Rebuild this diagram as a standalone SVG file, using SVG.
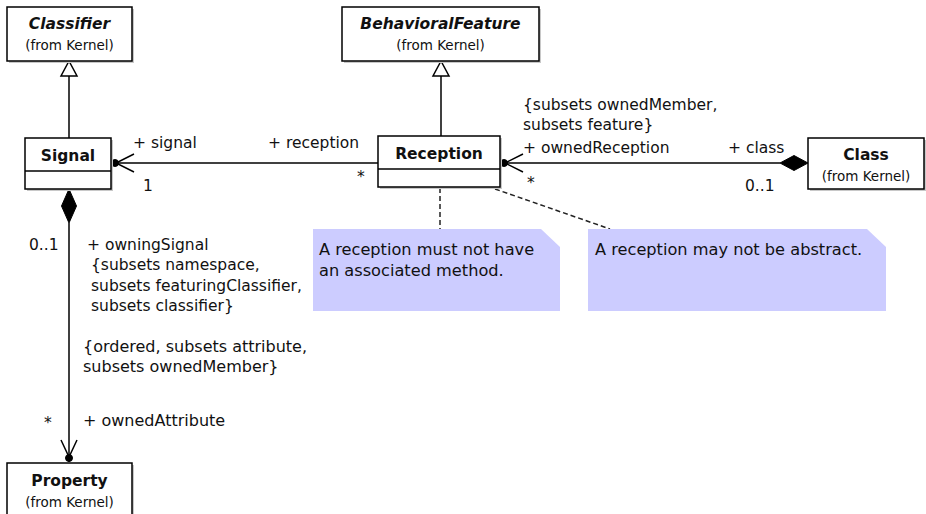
<svg xmlns="http://www.w3.org/2000/svg" width="926" height="514" viewBox="0 0 926 514">
<style>
text{font-family:"DejaVu Sans","Liberation Sans",sans-serif;fill:#111;}
.t{font-size:15.5px;font-weight:bold;text-anchor:middle;}
.ti{font-size:15.5px;font-weight:bold;font-style:italic;text-anchor:middle;}
.k{font-size:13.5px;text-anchor:middle;}
.l{font-size:15.5px;}
.b{font-size:16px;}
.n{font-size:16.2px;}
.box{fill:#fff;stroke:#000;stroke-width:1.5;}
.sh{fill:#c8c8c8;}
.ln{fill:none;stroke:#000;stroke-width:1.5;}
.ds{fill:none;stroke:#222;stroke-width:1.5;stroke-dasharray:5,3;}
.note{fill:#ccccff;}
.gen{fill:#fff;stroke:#000;stroke-width:1.5;}
.fill{fill:#000;stroke:#000;stroke-width:1;}
</style>
<g id="connectors">
  <!-- Signal -> Classifier generalization -->
  <line class="ln" x1="69" y1="76" x2="69" y2="138"/>
  <polygon class="gen" points="69,61 61,76 77,76"/>
  <!-- Reception -> BehavioralFeature generalization -->
  <line class="ln" x1="441" y1="76" x2="441" y2="136"/>
  <polygon class="gen" points="441,61 433,76 449,76"/>
  <!-- Signal - Reception association -->
  <line class="ln" x1="113" y1="163" x2="378" y2="163"/>
  <circle class="fill" cx="115" cy="163" r="3.5"/>
  <polyline class="ln" points="134,154 116,163 134,172"/>
  <!-- Reception - Class composition -->
  <line class="ln" x1="502" y1="163" x2="780" y2="163"/>
  <circle class="fill" cx="504" cy="163" r="3.5"/>
  <polyline class="ln" points="523,154 505,163 523,172"/>
  <polygon class="fill" points="808,163 794,155.5 780,163 794,170.5"/>
  <!-- Signal - Property composition -->
  <polygon class="fill" points="69,189 61.5,206 69,223 76.5,206"/>
  <line class="ln" x1="69" y1="223" x2="69" y2="462"/>
  <circle class="fill" cx="69" cy="458" r="3.5"/>
  <polyline class="ln" points="61,440 69,457 77,440"/>
  <!-- note anchors -->
  <line class="ds" x1="440" y1="188" x2="440" y2="229"/>
  <line class="ds" x1="495" y1="189" x2="610" y2="229"/>
  <!-- association labels -->
  <text class="l" x="133" y="148">+ signal</text>
  <text class="l" x="143" y="191">1</text>
  <text class="l" x="268" y="148">+ reception</text>
  <text class="l" x="357" y="182">*</text>
  <text class="l" x="523" y="110">{subsets ownedMember,</text>
  <text class="l" x="523" y="130">subsets feature}</text>
  <text class="l" x="523" y="153">+ ownedReception</text>
  <text class="l" x="527" y="188">*</text>
  <text class="l" x="728" y="153">+ class</text>
  <text class="l" x="745" y="191">0..1</text>
  <text class="l" x="29" y="250">0..1</text>
  <text class="l" x="87" y="250">+ owningSignal</text>
  <text class="l" x="91" y="270">{subsets namespace,</text>
  <text class="l" x="91" y="291">subsets featuringClassifier,</text>
  <text class="l" x="91" y="311">subsets classifier}</text>
  <text class="b" x="83" y="352">{ordered, subsets attribute,</text>
  <text class="b" x="83" y="372">subsets ownedMember}</text>
  <text class="l" x="44" y="428">*</text>
  <text class="b" x="83" y="426">+ ownedAttribute</text>
</g>
<g id="Classifier">
  <rect class="sh" x="9" y="9" width="125" height="54"/>
  <rect class="box" x="7" y="7" width="125" height="54"/>
  <text class="ti" x="69.5" y="29">Classifier</text>
  <text class="k" x="69.5" y="50">(from Kernel)</text>
</g>
<g id="BehavioralFeature">
  <rect class="sh" x="344" y="9" width="197" height="54"/>
  <rect class="box" x="342" y="7" width="197" height="54"/>
  <text class="ti" x="440.5" y="29">BehavioralFeature</text>
  <text class="k" x="440.5" y="50">(from Kernel)</text>
</g>
<g id="Signal">
  <rect class="sh" x="27" y="140" width="86" height="51"/>
  <rect class="box" x="25" y="138" width="86" height="51"/>
  <line class="ln" x1="25" y1="171" x2="111" y2="171"/>
  <text class="t" x="68" y="161">Signal</text>
</g>
<g id="Reception">
  <rect class="sh" x="380" y="138" width="122" height="51"/>
  <rect class="box" x="378" y="136" width="122" height="51"/>
  <line class="ln" x1="378" y1="169" x2="500" y2="169"/>
  <text class="t" x="439" y="159">Reception</text>
</g>
<g id="Class">
  <rect class="sh" x="810" y="140" width="116" height="51"/>
  <rect class="box" x="808" y="138" width="116" height="51"/>
  <text class="t" x="866" y="160">Class</text>
  <text class="k" x="866" y="181">(from Kernel)</text>
</g>
<g id="Property">
  <rect class="sh" x="9" y="465" width="125" height="54"/>
  <rect class="box" x="7" y="463" width="125" height="60"/>
  <text class="t" x="69.5" y="486">Property</text>
  <text class="k" x="69.5" y="507">(from Kernel)</text>
</g>
<g id="note1">
  <polygon class="note" points="313,229 541,229 560,247 560,311 313,311"/>
  <text class="n" x="319" y="255">A reception must not have</text>
  <text class="n" x="319" y="276">an associated method.</text>
</g>
<g id="note2">
  <polygon class="note" points="588,229 867,229 886,247 886,311 588,311"/>
  <text class="n" x="595" y="255">A reception may not be abstract.</text>
</g>
</svg>
